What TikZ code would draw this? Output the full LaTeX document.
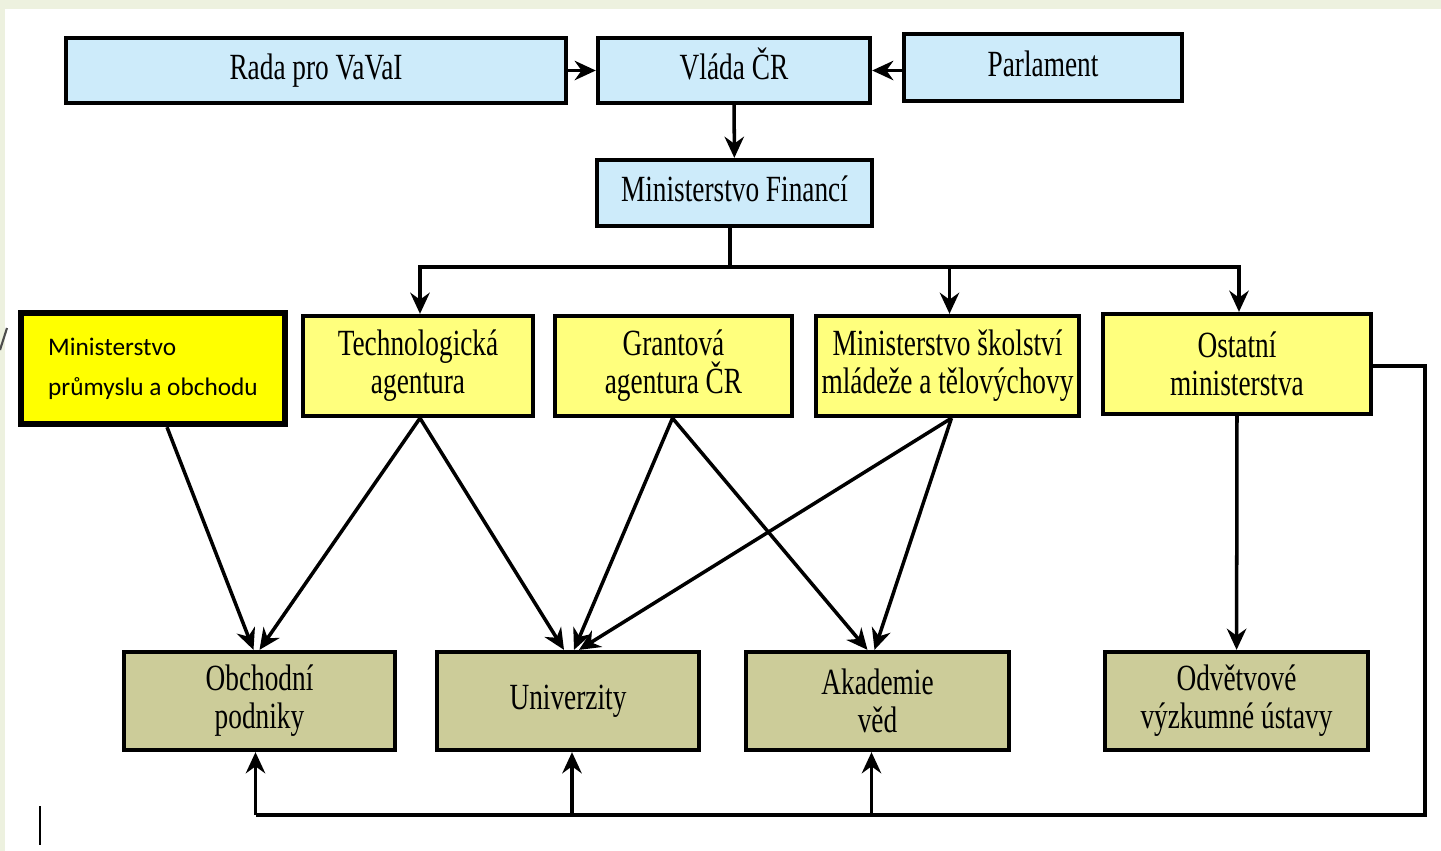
\documentclass[tikz,border=0pt]{standalone}
\usepackage{fontspec}
\newfontfamily\zeitfont{Liberation Serif}[FakeStretch=0.74]
\newfontfamily\calibri{Carlito}
\usepackage{tikz}
\usetikzlibrary{arrows.meta,calc,positioning}
\definecolor{hellblau}{RGB}{205,235,250}
\definecolor{hellgelb}{RGB}{255,255,125}
\definecolor{knallgelb}{RGB}{255,255,0}
\definecolor{oliv}{RGB}{204,204,153}
\definecolor{folie}{RGB}{237,241,223}
\tikzset{
  kasten/.style={draw=black,line width=1.2pt,inner sep=0pt,align=center,font=\zeitfont\fontsize{10.5}{10.8}\selectfont},
  blauKasten/.style={kasten,fill=hellblau,text height=7pt,text depth=2pt},
  gelbKasten/.style={kasten,fill=hellgelb},
  olivKasten/.style={kasten,fill=oliv,minimum width=2.63cm,minimum height=0.98cm},
  pfeil/.style={->,line width=1pt}
}
\begin{document}
\begin{tikzpicture}[x=0.01cm,y=-0.01cm,>={Stealth[length=6pt,width=5.5pt]}]
%Hintergrund der Folie
\useasboundingbox (0,0) rectangle (1441,851);
\fill[white] (0,0) rectangle (1441,851);
\fill[folie] (0,0) rectangle (1441,9);
\fill[folie] (0,0) rectangle (5,851);
\draw[line width=0.6pt,black!70] (0,350) -- (7,328);
\draw[line width=0.6pt] (40,806) -- (40,845);
%obere Ebene
\node[blauKasten,minimum width=5cm,minimum height=0.65cm] (rada) at (316,70.5) {Rada pro VaVaI};
\node[blauKasten,minimum width=2.72cm,minimum height=0.65cm] (vlada) at (734,70.5) {Vláda ČR};
\node[blauKasten,minimum width=2.78cm,minimum height=0.67cm] (parlament) at (1043,67.5) {Parlament};
\node[blauKasten,minimum width=2.75cm,minimum height=0.66cm] (financi) at (734.5,193) {Ministerstvo Financí};
%mittlere Ebene
\node[kasten,fill=knallgelb,line width=1.8pt,minimum width=2.64cm,minimum height=1.11cm,align=left,
  font=\calibri\fontsize{7.2}{11.4}\selectfont] (mpo) at (153,368.5) {Ministerstvo\\průmyslu a obchodu};
\node[gelbKasten,minimum width=2.3cm,minimum height=1cm] (ta) at (418,366) {Technologická\\agentura};
\node[gelbKasten,minimum width=2.37cm,minimum height=1cm] (ga) at (673.5,366) {Grantová\\agentura ČR};
\node[gelbKasten,minimum width=2.63cm,minimum height=1cm] (msmt) at (947.5,366) {Ministerstvo školství\\mládeže a tělovýchovy};
\node[gelbKasten,minimum width=2.68cm,minimum height=1cm] (ost) at (1237,364) {Ostatní\\ministerstva};
%untere Ebene
\node[olivKasten,minimum width=2.71cm] (obch) at (259.5,701) {Obchodní\\podniky};
\node[olivKasten,minimum width=2.62cm] (univ) at (568,701) {Univerzity};
\node[olivKasten] (akad) at (877.5,701) {Akademie\\věd};
\node[olivKasten] (odv) at (1236.5,701) {Odvětvové\\výzkumné ústavy};
%Pfeile oben
\draw[pfeil] (rada) -- (vlada);
\draw[pfeil] (parlament.west |- vlada) -- (vlada);
\draw[pfeil] (vlada) -- (financi);
\coordinate (verteiler) at (730,267);
\draw[line width=1pt] (financi.south -| verteiler) -- (verteiler);
\foreach \ziel in {ta,msmt,ost}{
\draw[pfeil] (verteiler) -| ($(\ziel.north)+(2,0)$);
}
%Querverbindungen
\draw[pfeil] ($(mpo.south)+(14,0)$) -- ($(obch.north)+(-6,0)$);
\draw[pfeil] ($(ta.south)+(2,0)$) -- ($(obch.north)+(0,0)$);
\draw[pfeil] ($(ta.south)+(2,0)$) -- ($(univ.north)+(-4,0)$);
\draw[pfeil] ($(ga.south)+(-1,0)$) -- ($(univ.north)+(6,0)$);
\draw[pfeil] ($(ga.south)+(-1,0)$) -- ($(akad.north)+(-10,0)$);
\draw[pfeil] ($(msmt.south)+(4,0)$) -- ($(univ.north)+(11,0)$);
\draw[pfeil] ($(msmt.south)+(4,0)$) -- ($(akad.north)+(-3,0)$);
\draw[pfeil] (ost.south |- 0,416) -- (odv);
%Rueckfuehrung
\coordinate (ecke) at (1425,815);
\draw[line width=1pt] (ost.east |- 0,366) -| (ecke) -- ($(obch.south |- ecke)+(-4,0)$);
\foreach \ziel/\dx in {obch/-4,univ/4,akad/-6}{
\draw[pfeil] ($(\ziel.south |- ecke)+(\dx,0)$) -- ($(\ziel.south)+(\dx,0)$);
}
\end{tikzpicture}
\end{document}
